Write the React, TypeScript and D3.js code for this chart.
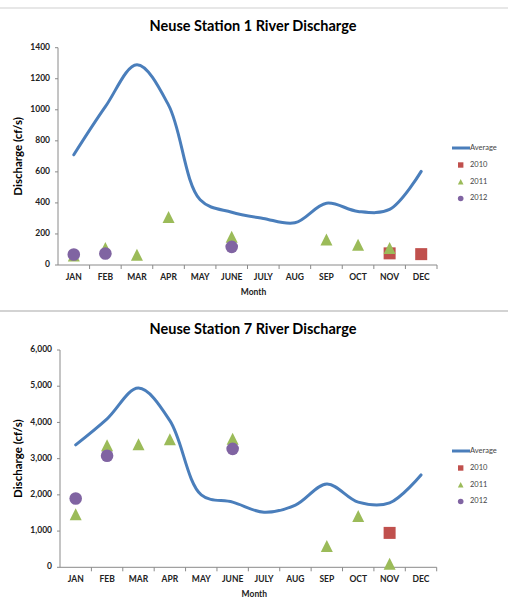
import { useMemo } from "react";
import * as d3 from "d3";

const MONTHS = ["JAN", "FEB", "MAR", "APR", "MAY", "JUNE", "JULY", "AUG", "SEP", "OCT", "NOV", "DEC"];

// Station 1
const S1_AVERAGE = [710, 1020, 1290, 1030, 420, 340, 300, 272, 398, 345, 358, 603];
const S1_2010 = [null, null, null, null, null, null, null, null, null, null, 75, 70];
const S1_2011 = [58, 105, 62, 305, null, 178, null, null, 160, 127, 105, null];
const S1_2012 = [68, 74, null, null, null, 117, null, null, null, null, null, null];
const S1_TICKS = [0, 200, 400, 600, 800, 1000, 1200, 1400];

// Station 7
const S7_AVERAGE = [3380, 4100, 4950, 4050, 2000, 1800, 1520, 1720, 2300, 1800, 1780, 2550];
const S7_2010 = [null, null, null, null, null, null, null, null, null, null, 950, null];
const S7_2011 = [1450, 3350, 3380, 3520, null, 3530, null, null, 570, 1400, 80, null];
const S7_2012 = [1900, 3080, null, null, null, 3270, null, null, null, null, null, null];
const S7_TICKS = [0, 1000, 2000, 3000, 4000, 5000, 6000];

const LINE_COLOR = "#4A7EBB";
const RED = "#C0504D";
const GREEN = "#9BBB59";
const PURPLE = "#8064A2";
const FONT = "Lato, 'Open Sans', sans-serif";

type ChartProps = {
  title: string;
  average: number[];
  y2010: (number | null)[];
  y2011: (number | null)[];
  y2012: (number | null)[];
  ticks: number[];
  format: (v: number) => string;
  layout: {
    titleY: number;
    left: number;
    right: number;
    top: number;
    bottom: number;
    legendY: number;
  };
};

const triangle = (cx: number, cy: number, s: number) =>
  `M${cx},${cy - s * 0.55}L${cx + s / 2},${cy + s * 0.45}L${cx - s / 2},${cy + s * 0.45}Z`;

const Chart = ({ title, average, y2010, y2011, y2012, ticks, format, layout }: ChartProps) => {
  const { titleY, left, right, top, bottom, legendY } = layout;

  const xScale = useMemo(
    () => d3.scaleBand().domain(MONTHS).range([left, right]),
    [left, right]
  );
  const yScale = useMemo(
    () => d3.scaleLinear().domain([0, ticks[ticks.length - 1]]).range([bottom, top]),
    [ticks, top, bottom]
  );
  const cx = (i: number) => (xScale(MONTHS[i]) ?? 0) + xScale.bandwidth() / 2;

  const linePath = d3
    .line<number>()
    .x((_, i) => cx(i))
    .y((d) => yScale(d))
    .curve(d3.curveCatmullRom.alpha(0.5))(average);

  const midX = (left + right) / 2;
  const legendX = 452;

  return (
    <g fontFamily={FONT}>
      <text x={253} y={titleY} textAnchor="middle" dominantBaseline="middle" fontSize={14.5} fontWeight="bold" fill="#000">
        {title}
      </text>

      {/* y axis */}
      <line x1={left} x2={left} y1={top} y2={bottom} stroke="#8a8a8a" strokeWidth={1} />
      {ticks.map((t) => (
        <g key={t}>
          <line x1={left - 3} x2={left} y1={yScale(t)} y2={yScale(t)} stroke="#8a8a8a" />
          <text x={left - 8} y={yScale(t)} textAnchor="end" dominantBaseline="middle" fontSize={8.5} fontWeight="bold" fill="#222">
            {format(t)}
          </text>
        </g>
      ))}

      {/* x axis */}
      <line x1={left} x2={right} y1={bottom} y2={bottom} stroke="#8a8a8a" strokeWidth={1} />
      {MONTHS.map((m, i) => (
        <g key={m}>
          <line
            x1={(xScale(m) ?? 0) + xScale.bandwidth()}
            x2={(xScale(m) ?? 0) + xScale.bandwidth()}
            y1={bottom}
            y2={bottom + 4}
            stroke="#8a8a8a"
          />
          <text x={cx(i)} y={bottom + 13} textAnchor="middle" dominantBaseline="middle" fontSize={8.5} fontWeight="bold" fill="#222">
            {m}
          </text>
        </g>
      ))}
      <text x={midX + 6} y={bottom + 28} textAnchor="middle" dominantBaseline="middle" fontSize={8.5} fontWeight="bold" fill="#222">
        Month
      </text>
      <text
        transform={`translate(19,${(top + bottom) / 2}) rotate(-90)`}
        textAnchor="middle"
        dominantBaseline="middle"
        fontSize={11.5}
        fontWeight="bold"
        fill="#000"
      >
        Discharge (cf/s)
      </text>

      {/* average line */}
      <path d={linePath ?? ""} fill="none" stroke={LINE_COLOR} strokeWidth={3} strokeLinecap="round" />

      {/* scatter */}
      {y2010.map((v, i) =>
        v === null ? null : (
          <rect key={`a${i}`} x={cx(i) - 6} y={yScale(v) - 6} width={12} height={12} fill={RED} />
        )
      )}
      {y2011.map((v, i) =>
        v === null ? null : <path key={`b${i}`} d={triangle(cx(i), yScale(v), 12)} fill={GREEN} />
      )}
      {y2012.map((v, i) =>
        v === null ? null : <circle key={`c${i}`} cx={cx(i)} cy={yScale(v)} r={6.3} fill={PURPLE} />
      )}

      {/* legend */}
      <line x1={legendX} x2={470} y1={legendY} y2={legendY} stroke={LINE_COLOR} strokeWidth={3} />
      <text x={470} y={legendY} dominantBaseline="middle" fontSize={7.5} fill="#444">Average</text>
      <rect x={458} y={legendY + 17 - 2.7} width={5.4} height={5.4} fill={RED} />
      <text x={470} y={legendY + 17} dominantBaseline="middle" fontSize={7.5} fill="#444">2010</text>
      <path d={triangle(460.7, legendY + 34, 5.6)} fill={GREEN} />
      <text x={470} y={legendY + 34} dominantBaseline="middle" fontSize={7.5} fill="#444">2011</text>
      <circle cx={460.7} cy={legendY + 50.5} r={2.8} fill={PURPLE} />
      <text x={470} y={legendY + 50.5} dominantBaseline="middle" fontSize={7.5} fill="#444">2012</text>
    </g>
  );
};

const App = () => {
  const plain = (v: number) => `${v}`;
  const comma = d3.format(",");
  return (
    <svg width={508} height={605} style={{ position: "absolute", left: 0, top: 0, background: "#fff" }}>
      <rect width={508} height={605} fill="#fff" />
      <line x1={0} x2={508} y1={8} y2={8} stroke="#cfcfcf" strokeWidth={1} />
      <line x1={0} x2={508} y1={311} y2={311} stroke="#c4c4c4" strokeWidth={1.5} />
      <Chart
        title="Neuse Station 1 River Discharge"
        average={S1_AVERAGE}
        y2010={S1_2010}
        y2011={S1_2011}
        y2012={S1_2012}
        ticks={S1_TICKS}
        format={plain}
        layout={{ titleY: 27, left: 58, right: 437, top: 47.7, bottom: 265, legendY: 148 }}
      />
      <Chart
        title="Neuse Station 7 River Discharge"
        average={S7_AVERAGE}
        y2010={S7_2010}
        y2011={S7_2011}
        y2012={S7_2012}
        ticks={S7_TICKS}
        format={comma}
        layout={{ titleY: 330, left: 60, right: 436.7, top: 350, bottom: 567.3, legendY: 451 }}
      />
    </svg>
  );
};

export default App;
